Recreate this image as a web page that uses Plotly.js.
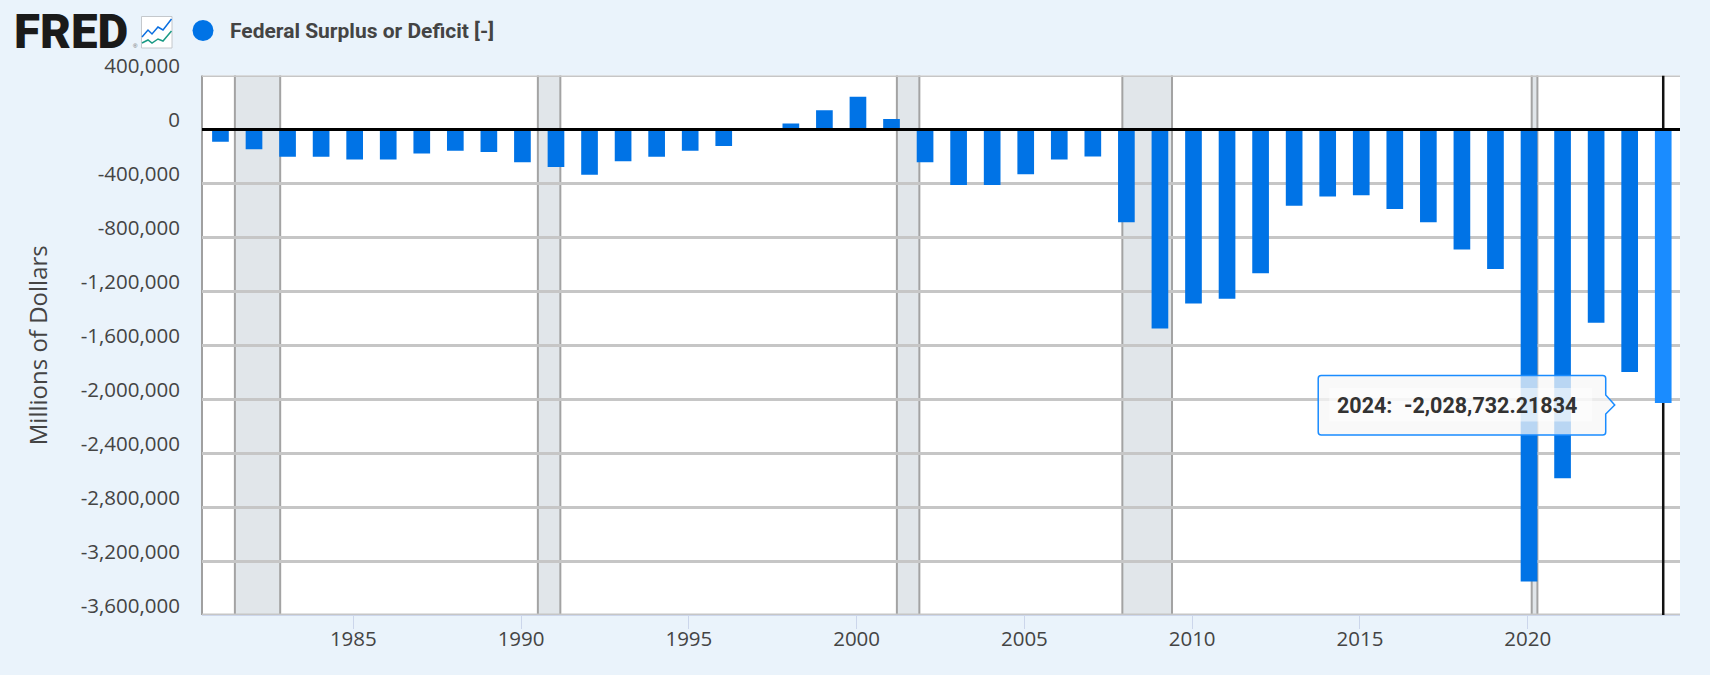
<!DOCTYPE html>
<html>
<head>
<meta charset="utf-8">
<script src="https://cdn.plot.ly/plotly-3.0.1.min.js"></script>
<style>html,body{margin:0;padding:0;background:#eaf3fb;overflow:hidden}#chart{width:1710px;height:675px}</style>
</head>
<body>
<div id="chart"></div>
<script>
const years = [1981,1982,1983,1984,1985,1986,1987,1988,1989,1990,1991,1992,1993,1994,1995,1996,1997,1998,1999,2000,2001,2002,2003,2004,2005,2006,2007,2008,2009,2010,2011,2012,2013,2014,2015,2016,2017,2018,2019,2020,2021,2022,2023,2024];
const deficit = [-91000,-146000,-202000,-202000,-222000,-222000,-178000,-158000,-168000,-244000,-279000,-336000,-235000,-202000,-158000,-123000,-3000,44000,143000,242000,77000,-244000,-412000,-412000,-333000,-222000,-200000,-688000,-1476000,-1291000,-1256000,-1066000,-565000,-498000,-488000,-590000,-688000,-891000,-1034000,-3352000,-2587000,-1434000,-1799000,-2028732.21834];
const seriesName = 'Federal Surplus or Deficit [-]';
const yTicks = [400000,0,-400000,-800000,-1200000,-1600000,-2000000,-2400000,-2800000,-3200000,-3600000];
const xTicks = [1985,1990,1995,2000,2005,2010,2015,2020];
const recessionStart = [1981.47,1990.5,2001.2,2007.92,2020.12];
const recessionEnd = [1982.82,1991.17,2001.87,2009.4,2020.29];
const tooltipLabel = '2024:';
const tooltipValue = '-2,028,732.21834';
const yTitle = 'Millions of Dollars';

const W = 1710, H = 675;
const LIFT = 9.5, PLOT_H = 539.5;
const M = {l:202, r:30, t:H - 60 - PLOT_H - LIFT, b:60};
const BAR_COLOR = '#0073e6', HOVER_COLOR = '#1a8cff', BAND = '#e1e6ea', BAND_EDGE = '#a3a3a3', GRID = '#c6c6c6', INK = '#444444';
const px = v => (v - M.l) / (W - M.l - M.r);
const py = v => 1 - (v - M.t) / (H - M.t - M.b);
const hoverYear = years[years.length - 1], hoverValue = deficit[deficit.length - 1];
const barShift = 0.04;
const yRange = [yTicks[yTicks.length - 1], yTicks[0]];
const labelRangeLow = yRange[0] - (yRange[1] - yRange[0]) * LIFT / PLOT_H;

const shapes = [];
// white plot area: only the bar axis' part of the page
shapes.push({type:'rect', layer:'below', xref:'paper', yref:'y domain', x0:0, x1:1, y0:0, y1:1, fillcolor:'#ffffff', line:{width:0}});
// recession bands: fill plus side edges only
recessionStart.forEach((s, i) => {
  const e = recessionEnd[i];
  shapes.push({type:'rect', layer:'below', xref:'x', yref:'y domain', x0:s, x1:e, y0:0, y1:1, fillcolor:BAND, line:{width:0}});
  [s, e].forEach(v => shapes.push({type:'line', layer:'below', xref:'x', yref:'y domain', x0:v, x1:v, y0:0, y1:1, line:{color:BAND_EDGE, width:2}}));
});
// left axis edge
shapes.push({type:'line', layer:'below', xref:'paper', yref:'y domain', x0:0, x1:0, y0:0, y1:1, line:{color:'#a0a0a0', width:2}});
// top and bottom gridlines, which the axis leaves out at its range ends
yRange.forEach(v => shapes.push({type:'line', layer:'below', xref:'paper', yref:'y', x0:0, x1:1, y0:v, y1:v, line:{color:GRID, width:3}}));
// crosshair under the bars
shapes.push({type:'line', layer:'between', xref:'x', yref:'y', x0:hoverYear + barShift, x1:hoverYear + barShift, y0:yRange[0], y1:yRange[1], line:{color:'#111111', width:2.5}});
// zero line over the bars
shapes.push({type:'line', layer:'above', xref:'paper', yref:'y', x0:0, x1:1, y0:0, y1:0, line:{color:'#000000', width:3}});
// tooltip box, anchored to the hovered point, offsets in pixels
const T = {l:-345, r:-57.5, t:27.5, b:-32, tip:-48.5, r0:3};
shapes.push({type:'path', layer:'above', xref:'x', yref:'y', xsizemode:'pixel', ysizemode:'pixel', xanchor:hoverYear + barShift, yanchor:hoverValue,
  path:`M ${T.l+T.r0} ${T.t} L ${T.r-T.r0} ${T.t} Q ${T.r} ${T.t} ${T.r} ${T.t-T.r0} L ${T.r} 8 L ${T.tip} -2 L ${T.r} -11 L ${T.r} ${T.b+T.r0} Q ${T.r} ${T.b} ${T.r-T.r0} ${T.b} L ${T.l+T.r0} ${T.b} Q ${T.l} ${T.b} ${T.l} ${T.b+T.r0} L ${T.l} ${T.t-T.r0} Q ${T.l} ${T.t} ${T.l+T.r0} ${T.t} Z`,
  fillcolor:'rgba(247,247,247,0.75)', line:{color:'#1a8cff', width:1.5}});
shapes.push({type:'rect', layer:'above', xref:'x', yref:'y', xsizemode:'pixel', ysizemode:'pixel', xanchor:hoverYear + barShift, yanchor:hoverValue,
  x0:-334, x1:-71, y0:15, y1:-18.5, fillcolor:'rgba(255,255,255,0.5)', line:{width:0}});
// legend dot
shapes.push({type:'circle', xref:'paper', yref:'paper', x0:px(192.5), x1:px(213.5), y0:py(41), y1:py(20), fillcolor:BAR_COLOR, line:{width:0}});
// logo icon
shapes.push({type:'rect', xref:'paper', yref:'paper', x0:px(141.5), x1:px(172), y0:py(48), y1:py(16.5), fillcolor:'#ffffff', line:{color:'#c4c8cc', width:1}});
const poly = pts => 'M ' + pts.map(p => px(p[0]) + ' ' + py(p[1])).join(' L ');
shapes.push({type:'path', xref:'paper', yref:'paper', path:poly([[142,37],[148,30],[152,34],[158,27],[163,30],[171.5,19]]), line:{color:'#0b6fe0', width:1.5}});
shapes.push({type:'path', xref:'paper', yref:'paper', path:poly([[142,43],[148,40],[152,43],[158,39],[163,41],[171.5,31]]), line:{color:'#1a9a85', width:1.5}});

const annotations = [
  {xref:'paper', yref:'paper', x:px(12), y:py(32), xanchor:'left', yanchor:'middle', showarrow:false, text:'FRED', font:{family:'Roboto', size:47.5, color:'#1a1a1a', weight:900}},
  {xref:'paper', yref:'paper', x:px(131), y:py(46), xanchor:'left', yanchor:'middle', showarrow:false, text:'®', font:{family:'Liberation Sans', size:6, color:'#666666'}},
  {xref:'paper', yref:'paper', x:px(227.5), y:py(31), xanchor:'left', yanchor:'middle', showarrow:false, text:'<b>' + seriesName + '</b>', font:{family:'Roboto', size:21, color:INK}},
  {xref:'x', yref:'y', x:hoverYear + barShift, y:hoverValue, xshift:-328, yshift:-2, xanchor:'left', yanchor:'middle', showarrow:false, text:'<b>' + tooltipLabel + '</b>', font:{family:'Roboto', size:21.5, color:'#333333'}},
  {xref:'x', yref:'y', x:hoverYear + barShift, y:hoverValue, xshift:-261, yshift:-2, xanchor:'left', yanchor:'middle', showarrow:false, text:'<b>' + tooltipValue + '</b>', font:{family:'Roboto', size:21.5, color:'#333333'}}
];

const trace = {
  type:'bar', name:seriesName, x:years, y:deficit,
  width:0.497, offset:-0.2485 + barShift,
  marker:{color:years.map(y => y === hoverYear ? HOVER_COLOR : BAR_COLOR), line:{width:0}},
  hoverinfo:'skip'
};
// carries the y tick labels on an axis sitting slightly above the gridlines, as in the reference
const labelCarrier = {type:'scatter', mode:'lines', x:yTicks.map(() => years[0]), y:yTicks, yaxis:'y2', opacity:0, hoverinfo:'skip', showlegend:false};

const layout = {
  width:W, height:H, margin:M, autosize:false, showlegend:false,
  paper_bgcolor:'#eaf3fb', plot_bgcolor:'rgba(0,0,0,0)',
  font:{family:'Open Sans', color:INK},
  xaxis:{type:'linear', range:[1980.49,2024.54], tickmode:'array', tickvals:xTicks, ticktext:xTicks.map(String),
    ticks:'outside', ticklen:13, tickwidth:1, tickcolor:'#ccd6eb', showgrid:false, zeroline:false,
    showline:true, linecolor:'#ccd6eb', linewidth:1, tickfont:{family:'Open Sans', size:20.5, color:INK}, ticklabelstandoff:-8},
  yaxis:{type:'linear', domain:[0, PLOT_H / (PLOT_H + LIFT)], range:yRange, tickmode:'array', tickvals:yTicks,
    showgrid:true, gridcolor:GRID, gridwidth:3, zeroline:false, showline:false, ticks:'', showticklabels:false,
    title:{text:yTitle, font:{family:'Open Sans', size:24, color:INK}, standoff:146}},
  yaxis2:{type:'linear', domain:[0, 1], anchor:'x', side:'left', range:[labelRangeLow, yRange[1]], tickmode:'array', tickvals:yTicks, ticktext:yTicks.map(v => v.toLocaleString('en-US')),
    showgrid:false, zeroline:false, showline:false, ticks:'', ticklabeloverflow:'allow',
    tickfont:{family:'Open Sans', size:20.5, color:INK}, ticklabelstandoff:21},
  shapes, annotations
};
Plotly.newPlot('chart', [trace, labelCarrier], layout, {displayModeBar:false, staticPlot:true});
</script>
</body>
</html>
